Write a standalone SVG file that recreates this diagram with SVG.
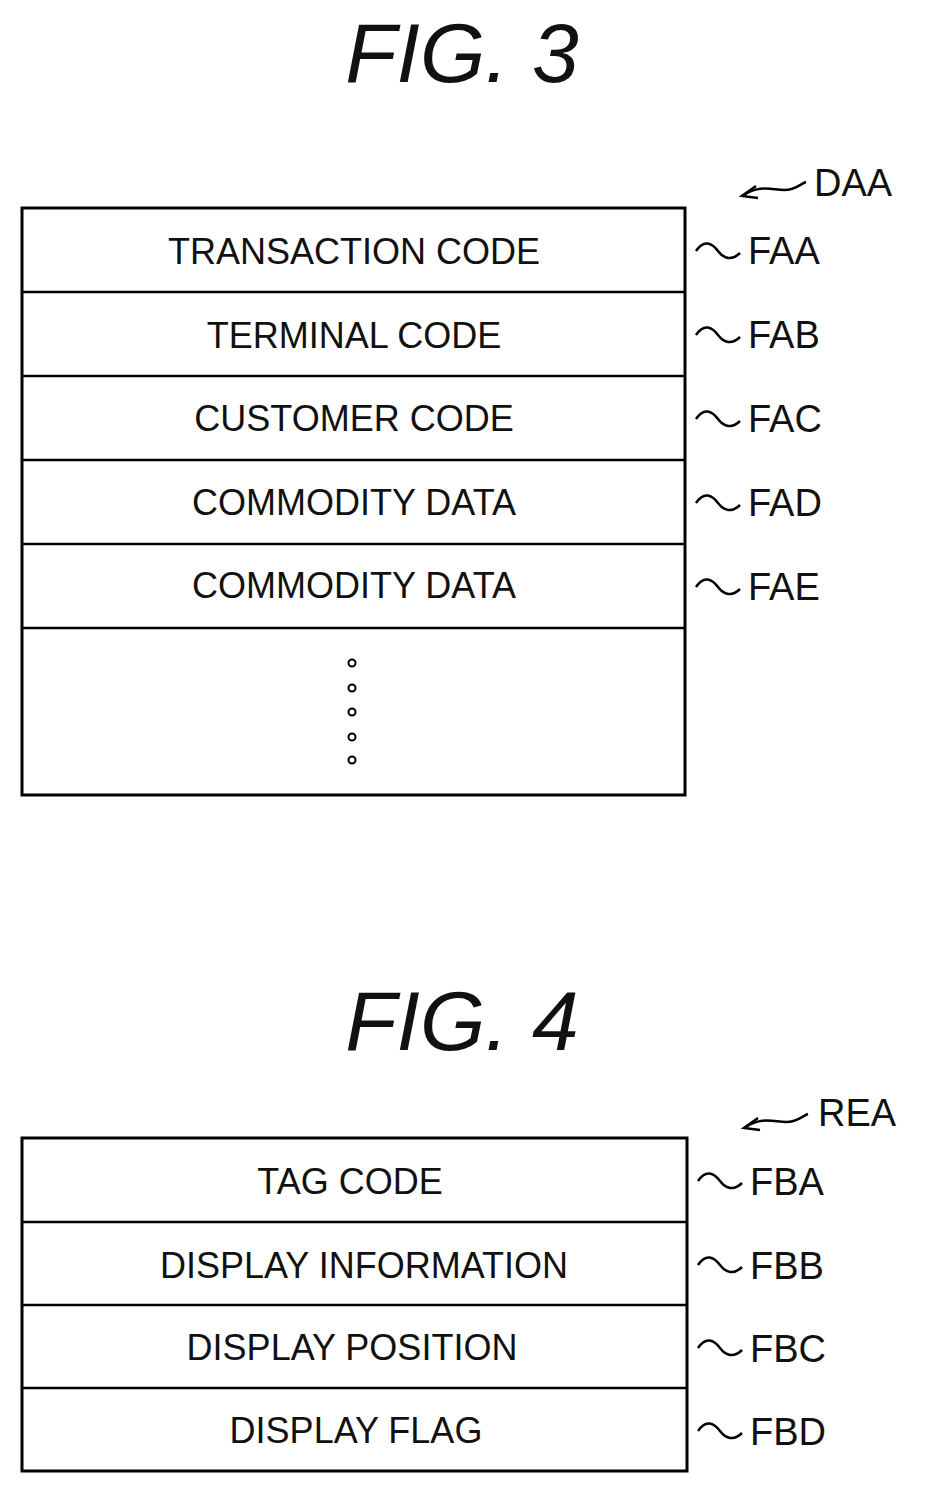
<svg xmlns="http://www.w3.org/2000/svg" width="926" height="1494" viewBox="0 0 926 1494">
<style>
.box{fill:none;stroke:#000;stroke-width:3}
.ln{stroke:#000;stroke-width:2.5}
.t{font-family:"Liberation Sans",Arial,sans-serif;font-size:36px;text-anchor:middle;fill:#111}
.l{font-family:"Liberation Sans",Arial,sans-serif;font-size:38px;fill:#111}
.fig{font-family:"Liberation Sans",Arial,sans-serif;font-size:84px;font-style:italic;text-anchor:middle;fill:#111}
.sq{fill:none;stroke:#000;stroke-width:2.5}
</style>
<defs>
<path id="sq" d="M0 0 C8 -12 16 -8 22 0 S36 10 44 2"/>
</defs>
<rect width="926" height="1494" fill="#fff"/>
<text class="fig" x="462" y="82">FIG. 3</text>
<text class="fig" x="462" y="1050">FIG. 4</text>
<g id="daa-label">
<path class="sq" d="M742 196 C760 184 772 190 784 190 S800 184 806 182"/>
<path class="sq" d="M756 186 L742 196 L758 198"/>
<text class="l" x="814" y="196">DAA</text>
</g>
<g id="rea-label">
<path class="sq" d="M744 1128 C762 1116 774 1122 786 1122 S802 1116 808 1114"/>
<path class="sq" d="M758 1118 L744 1128 L760 1130"/>
<text class="l" x="818" y="1126">REA</text>
</g>
<g id="table-daa">
<rect class="box" x="22" y="208" width="663" height="587"/>
<line class="ln" x1="22" y1="292" x2="685" y2="292"/>
<line class="ln" x1="22" y1="376" x2="685" y2="376"/>
<line class="ln" x1="22" y1="460" x2="685" y2="460"/>
<line class="ln" x1="22" y1="544" x2="685" y2="544"/>
<line class="ln" x1="22" y1="628" x2="685" y2="628"/>
<text class="t" x="354" y="264">TRANSACTION CODE</text>
<text class="t" x="354" y="348">TERMINAL CODE</text>
<text class="t" x="354" y="431">CUSTOMER CODE</text>
<text class="t" x="354" y="515">COMMODITY DATA</text>
<text class="t" x="354" y="598">COMMODITY DATA</text>
<g fill="none" stroke="#000" stroke-width="2">
<circle cx="352" cy="663" r="3.5"/><circle cx="352" cy="688" r="3.5"/><circle cx="352" cy="712" r="3.5"/><circle cx="352" cy="737" r="3.5"/><circle cx="352" cy="760" r="3.5"/>
</g>
</g>
<g id="labels-daa">
<use href="#sq" class="sq" x="696" y="251"/><text class="l" x="748" y="264">FAA</text>
<use href="#sq" class="sq" x="696" y="335"/><text class="l" x="748" y="348">FAB</text>
<use href="#sq" class="sq" x="696" y="419"/><text class="l" x="748" y="432">FAC</text>
<use href="#sq" class="sq" x="696" y="503"/><text class="l" x="748" y="516">FAD</text>
<use href="#sq" class="sq" x="696" y="587"/><text class="l" x="748" y="600">FAE</text>
</g>
<g id="table-rea">
<rect class="box" x="22" y="1138" width="665" height="333"/>
<line class="ln" x1="22" y1="1222" x2="687" y2="1222"/>
<line class="ln" x1="22" y1="1305" x2="687" y2="1305"/>
<line class="ln" x1="22" y1="1388" x2="687" y2="1388"/>
<text class="t" x="350" y="1194">TAG CODE</text>
<text class="t" x="364" y="1278">DISPLAY INFORMATION</text>
<text class="t" x="352" y="1360">DISPLAY POSITION</text>
<text class="t" x="356" y="1443">DISPLAY FLAG</text>
</g>
<g id="labels-rea">
<use href="#sq" class="sq" x="698" y="1181"/><text class="l" x="750" y="1195">FBA</text>
<use href="#sq" class="sq" x="698" y="1265"/><text class="l" x="750" y="1279">FBB</text>
<use href="#sq" class="sq" x="698" y="1348"/><text class="l" x="750" y="1362">FBC</text>
<use href="#sq" class="sq" x="698" y="1431"/><text class="l" x="750" y="1445">FBD</text>
</g>
</svg>
